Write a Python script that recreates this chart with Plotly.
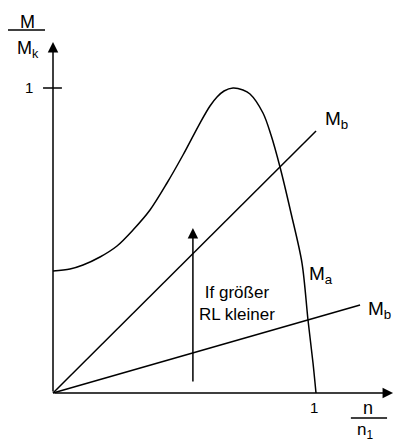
import plotly.graph_objects as go

# Motor torque curve M_a (relative torque vs relative speed)
n_rel = [0.0, 0.0649, 0.1145, 0.1794, 0.2443, 0.3053, 0.3702, 0.4351, 0.4962, 0.5611,
         0.5992, 0.6260, 0.6527, 0.6870, 0.7252, 0.7519, 0.8015, 0.8321, 0.8664, 0.9084,
         0.9504, 0.9733, 0.9924, 1.0038]
m_a = [0.400, 0.4066, 0.4197, 0.4459, 0.4820, 0.5344, 0.6000, 0.6885, 0.7803, 0.8852,
       0.9410, 0.9705, 0.9902, 1.000, 0.9934, 0.9803, 0.9180, 0.8459, 0.7410, 0.5902,
       0.4262, 0.2393, 0.0984, 0.0]

# Load lines M_b (straight lines through the origin)
mb_upper_x = [0.0, 1.004]
mb_upper_y = [0.0, 0.859]
mb_lower_x = [0.0, 1.172]
mb_lower_y = [0.0, 0.2885]

# Arrow "If größer / RL kleiner"
arrow_x = 0.534
arrow_y = [0.033, 0.541]

FONT = "Liberation Sans, Arial, sans-serif"
BLACK = "#000000"
LW = 1.5

fig = go.Figure()
fig.add_trace(go.Scatter(x=n_rel, y=m_a, mode="lines",
                         line=dict(color=BLACK, width=LW, shape="spline", smoothing=0.9),
                         hoverinfo="skip"))
fig.add_trace(go.Scatter(x=mb_upper_x, y=mb_upper_y, mode="lines",
                         line=dict(color=BLACK, width=LW), hoverinfo="skip"))
fig.add_trace(go.Scatter(x=mb_lower_x, y=mb_lower_y, mode="lines",
                         line=dict(color=BLACK, width=LW), hoverinfo="skip"))

annotations = []
# axes with arrowheads
annotations.append(dict(x=0, y=1.151, ax=0, ay=0, xref="x", yref="y", axref="x", ayref="y",
                        showarrow=True, arrowhead=2, arrowsize=1.4, arrowwidth=LW,
                        arrowcolor=BLACK, text="", standoff=0))
annotations.append(dict(x=1.298, y=0, ax=0, ay=0, xref="x", yref="y", axref="x", ayref="y",
                        showarrow=True, arrowhead=2, arrowsize=1.4, arrowwidth=LW,
                        arrowcolor=BLACK, text="", standoff=0))
# middle arrow
annotations.append(dict(x=arrow_x, y=arrow_y[1], ax=arrow_x, ay=arrow_y[0], xref="x", yref="y",
                        axref="x", ayref="y", showarrow=True, arrowhead=2, arrowsize=1.4,
                        arrowwidth=LW, arrowcolor=BLACK, text="", standoff=0))

def txt(x, y, s, size, xanchor="center", yanchor="middle"):
    annotations.append(dict(x=x, y=y, xref="x", yref="y", text=s, showarrow=False,
                            xanchor=xanchor, yanchor=yanchor,
                            font=dict(family=FONT, size=size, color=BLACK)))

txt(-0.096, 1.215, "M", 18)
txt(-0.096, 1.125, "M<sub>k</sub>", 18)
txt(-0.068, 1.003, "1", 15, xanchor="right")
txt(0.998, -0.0475, "1", 15)
txt(1.202, -0.050, "n", 18)
txt(1.191, -0.126, "n<sub>1</sub>", 17)
txt(1.031, 0.895, "M<sub>b</sub>", 19, xanchor="left")
txt(0.969, 0.388, "M<sub>a</sub>", 19, xanchor="left")
txt(1.193, 0.272, "M<sub>b</sub>", 19, xanchor="left")
txt(0.703, 0.295, "If größer<br>RL kleiner", 17)

shapes = [
    dict(type="line", xref="x", yref="y", x0=-0.038, x1=0.034, y0=1.0, y1=1.0,
         line=dict(color=BLACK, width=LW)),
    dict(type="line", xref="x", yref="y", x0=-0.1718, x1=-0.0305, y0=1.190, y1=1.190,
         line=dict(color=BLACK, width=LW)),
    dict(type="line", xref="x", yref="y", x0=1.137, x1=1.275, y0=-0.082, y1=-0.082,
         line=dict(color=BLACK, width=LW)),
]

fig.update_layout(
    width=395, height=441,
    margin=dict(l=0, r=0, t=0, b=0),
    paper_bgcolor="white", plot_bgcolor="white",
    showlegend=False,
    xaxis=dict(range=[-53 / 262, 342 / 262], visible=False, fixedrange=True),
    yaxis=dict(range=[-48 / 305, 393 / 305], visible=False, fixedrange=True),
    annotations=annotations,
    shapes=shapes,
)

# remove the default page margin so the figure fills the window exactly
fig.write_html("out.html", config={"displayModeBar": False},
               post_script="document.body.style.margin='0';document.body.style.overflow='hidden';")
